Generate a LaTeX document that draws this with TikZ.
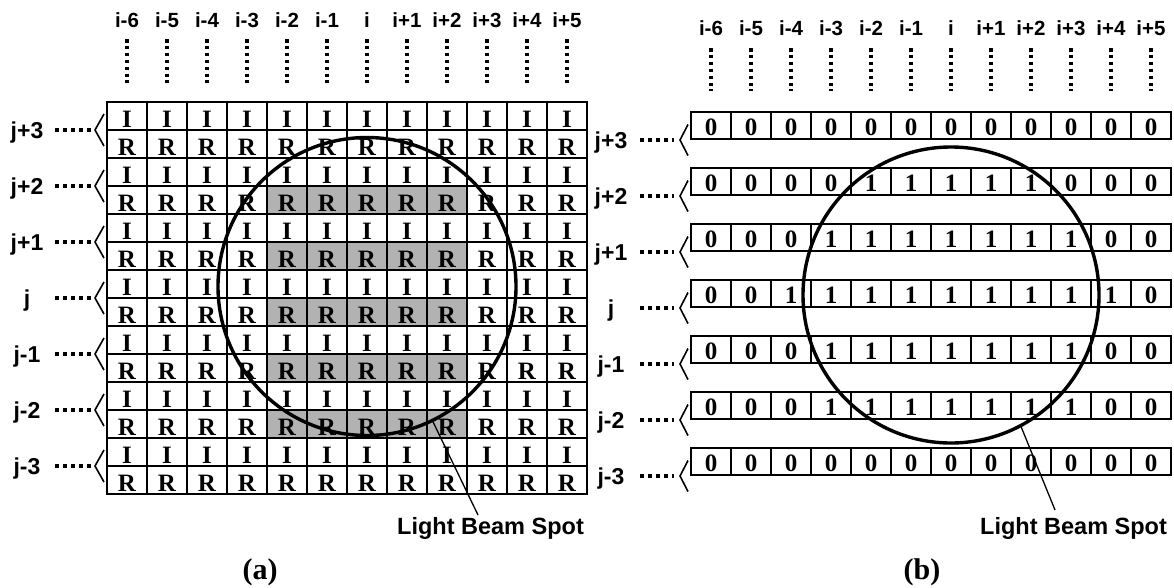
\documentclass[tikz,border=0pt]{standalone}
\usepackage{fontspec}
\setmainfont{Liberation Serif}
\newfontfamily\labfont{Liberation Sans}
\begin{document}
\begin{tikzpicture}[x=1pt,y=-1pt,
  gridline/.style={draw=black,line width=1.4pt},
  shadecell/.style={fill=black!30},
  celltext/.style={font=\fontsize{25}{25}\selectfont\bfseries,inner sep=0pt,anchor=base},
  collab/.style={font=\labfont\bfseries\fontsize{20.5}{20.5}\selectfont,inner sep=0pt,anchor=base},
  rowlab/.style={font=\labfont\bfseries\fontsize{23}{23}\selectfont,inner sep=0pt,anchor=base},
  vdots/.style={line width=3.5pt,dash pattern=on 3.5pt off 3.4pt},
  hdots/.style={line width=3.5pt,dash pattern=on 4.4pt off 3.6pt},
  bracket/.style={line width=1.6pt,line join=miter},
  spot/.style={circle,draw=black,line width=3.4pt,inner sep=0pt},
  pointer/.style={line width=1.3pt},
  spotlab/.style={font=\labfont\bfseries\fontsize{23.5}{23.5}\selectfont,inner sep=0pt,anchor=base west},
  captext/.style={font=\fontsize{30}{30}\selectfont\bfseries,inner sep=0pt,anchor=base}
]
\useasboundingbox (0,0) rectangle (1174,587);

% ---------------- panel (a) ----------------
% shading
\foreach \r in {0,...,13}{
  \foreach \c in {0,...,11}{
    \pgfmathtruncatemacro\sh{and(and(\c>=4,\c<=8),and(isodd(\r),and(\r>=3,\r<=11)))}
    \ifnum\sh=1
      \fill[shadecell] (107+40*\c,102+28*\r) rectangle ++(40,28);
    \fi
  }
}
% grid
\foreach \r in {0,...,13}{
  \foreach \c in {0,...,11}{
    \draw[gridline] (107+40*\c,102+28*\r) rectangle ++(40,28);
  }
}
% cell letters
\foreach \r in {0,...,13}{
  \foreach \c in {0,...,11}{
    \pgfmathtruncatemacro\odd{isodd(\r)}
    \node[celltext] (a-\r-\c) at (127+40*\c,102+28*\r+25.5) {\ifnum\odd=1 R\else I\fi};
  }
}
% column labels
\foreach \t [count=\c from 0] in {i-6,i-5,i-4,i-3,i-2,i-1,i,i+1,i+2,i+3,i+4,i+5}{
  \node[collab] (acol-\c) at (127+40*\c,27) {\t};
  \coordinate (avt-\c) at (127+40*\c,39);
  \coordinate (avb-\c) at (127+40*\c,83);
  \draw[vdots] (avt-\c) -- (avb-\c);
}
% row labels
\foreach \t [count=\k from 0] in {j+3,j+2,j+1,j,j-1,j-2,j-3}{
  \node[rowlab] (arow-\k) at (27,130+56*\k+8) {\t};
  \coordinate (ahs-\k) at (55,130+56*\k);
  \coordinate (ahe-\k) at (92,130+56*\k);
  \draw[hdots] (ahs-\k) -- (ahe-\k);
  \draw[bracket] (104,130+56*\k-16) -- (95,130+56*\k) -- (104,130+56*\k+16);
}
% light beam spot
\node[spot,minimum size=298pt] (spotA) at (367,286.5) {};
\node[spotlab] (lbsA) at (397,534) {Light Beam Spot};
\coordinate (tipA) at (478,515);
\draw[pointer] (spotA.-64.4) -- (tipA);
\node[captext] (capA) at (260,579) {(a)};

% ---------------- panel (b) ----------------
\foreach \k/\lo/\hi in {0/99/-1,1/4/8,2/3/9,3/2/10,4/3/9,5/3/9,6/99/-1}{
  \foreach \c in {0,...,11}{
    \draw[gridline] (691+40*\c,112+56*\k) rectangle ++(40,27);
    \pgfmathtruncatemacro\val{and(\c>=\lo,\c<=\hi)}
    \node[celltext] (b-\k-\c) at (711+40*\c,112+56*\k+23) {\val};
  }
}
% column labels
\foreach \t [count=\c from 0] in {i-6,i-5,i-4,i-3,i-2,i-1,i,i+1,i+2,i+3,i+4,i+5}{
  \node[collab] (bcol-\c) at (711+40*\c,35.5) {\t};
  \coordinate (bvt-\c) at (711+40*\c,48);
  \coordinate (bvb-\c) at (711+40*\c,91);
  \draw[vdots] (bvt-\c) -- (bvb-\c);
}
% row labels
\foreach \t [count=\k from 0] in {j+3,j+2,j+1,j,j-1,j-2,j-3}{
  \node[rowlab] (brow-\k) at (611,140+56*\k+8) {\t};
  \coordinate (bhs-\k) at (640,140+56*\k);
  \coordinate (bhe-\k) at (674,140+56*\k);
  \draw[hdots] (bhs-\k) -- (bhe-\k);
  \draw[bracket] (688,140+56*\k-15.5) -- (680,140+56*\k) -- (688,140+56*\k+15.5);
}
% light beam spot
\node[spot,minimum size=296pt] (spotB) at (951,295) {};
\node[spotlab] (lbsB) at (980,534) {Light Beam Spot};
\coordinate (tipB) at (1055,510);
\draw[pointer] (spotB.-62.6) -- (tipB);
\node[captext] (capB) at (922,579) {(b)};
\end{tikzpicture}
\end{document}
